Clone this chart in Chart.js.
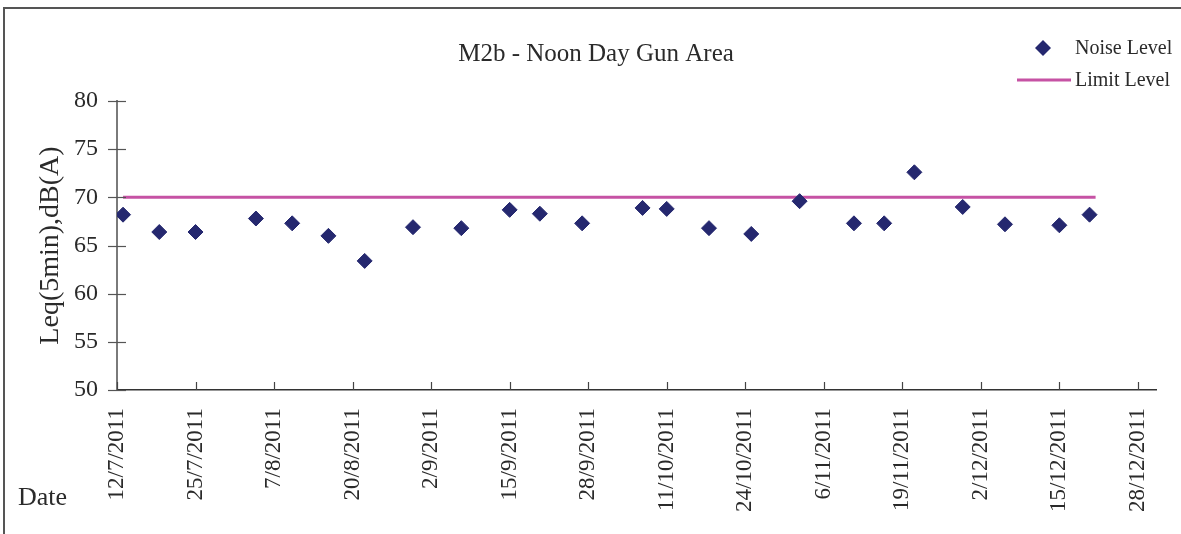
<!DOCTYPE html>
<html>
<head>
<meta charset="utf-8">
<script src="https://cdn.jsdelivr.net/npm/chart.js"></script>
<style>
  html, body { margin: 0; padding: 0; background: #ffffff; }
  #wrap { position: relative; width: 1181px; height: 534px; }
</style>
</head>
<body>
<div id="wrap"><canvas id="c" width="1181" height="534"></canvas></div>
<script>
// ---- data ----
const chartTitle = 'M2b - Noon Day Gun Area';
const yAxisTitle = 'Leq(5min),dB(A)';
const xAxisTitle = 'Date';
const noiseLabel = 'Noise Level';
const limitLabel = 'Limit Level';

const noiseDates = ['2011-07-13','2011-07-19','2011-07-25','2011-08-04','2011-08-10','2011-08-16',
  '2011-08-22','2011-08-30','2011-09-07','2011-09-15','2011-09-20','2011-09-27','2011-10-07',
  '2011-10-11','2011-10-18','2011-10-25','2011-11-02','2011-11-11','2011-11-16','2011-11-21',
  '2011-11-29','2011-12-06','2011-12-15','2011-12-20'];
const noiseValues = [68.2, 66.4, 66.4, 67.8, 67.3, 66.0, 63.4, 66.9, 66.8, 68.7, 68.3, 67.3, 68.9,
  68.8, 66.8, 66.2, 69.6, 67.3, 67.3, 72.6, 69.0, 67.2, 67.1, 68.2];

const limitDates = ['2011-07-13', '2011-12-21'];
const limitValues = [70, 70];

const xTickLabels = ['12/7/2011','25/7/2011','7/8/2011','20/8/2011','2/9/2011','15/9/2011',
  '28/9/2011','11/10/2011','24/10/2011','6/11/2011','19/11/2011','2/12/2011','15/12/2011','28/12/2011'];
const xMinLabel = '12/7/2011';
const xMaxLabel = '31/12/2011';
const yTickValues = [50, 55, 60, 65, 70, 75, 80];

// ---- helpers ----
const DAY = 86400000;
function isoToDay(s) { const [y, m, d] = s.split('-').map(Number); return Date.UTC(y, m - 1, d) / DAY; }
function dmyToDay(s) { const [d, m, y] = s.split('/').map(Number); return Date.UTC(y, m - 1, d) / DAY; }
function dayToDmy(v) { const dt = new Date(Math.round(v) * DAY); return dt.getUTCDate() + '/' + (dt.getUTCMonth() + 1) + '/' + dt.getUTCFullYear(); }

const xMin = dmyToDay(xMinLabel);
const xMax = dmyToDay(xMaxLabel);
const xTickPositions = xTickLabels.map(dmyToDay);

const noiseData = noiseDates.map((d, i) => ({ x: isoToDay(d), y: noiseValues[i] }));
const limitData = limitDates.map((d, i) => ({ x: isoToDay(d), y: limitValues[i] }));

const FONT = "'Liberation Serif', 'Times New Roman', serif";
const NAVY = '#25286F';
const PINK = '#C652A4';
const TEXT = '#2a2a2a';

const decorPlugin = {
  id: 'decor',
  afterDraw(chart) {
    const { ctx, chartArea: ca, scales } = chart;
    ctx.save();
    // outer frame (left & top visible)
    ctx.strokeStyle = '#555555';
    ctx.lineWidth = 2;
    ctx.beginPath();
    ctx.moveTo(4, 600); ctx.lineTo(4, 8); ctx.lineTo(1300, 8);
    ctx.stroke();

    // title
    ctx.fillStyle = TEXT;
    ctx.font = "25px " + FONT;
    ctx.textAlign = 'center';
    ctx.textBaseline = 'middle';
    ctx.fillText(chartTitle, 596, 54);

    // y tick marks (cross)
    ctx.strokeStyle = '#555555';
    ctx.lineWidth = 1.2;
    scales.y.ticks.forEach(t => {
      const py = Math.round(scales.y.getPixelForValue(t.value)) + 0.5;
      ctx.beginPath(); ctx.moveTo(ca.left - 9, py); ctx.lineTo(ca.left + 9, py); ctx.stroke();
    });
    // x tick marks (inside)
    ctx.strokeStyle = '#444444';
    scales.x.ticks.forEach(t => {
      const px = Math.round(scales.x.getPixelForValue(t.value)) + 0.5;
      ctx.beginPath(); ctx.moveTo(px, ca.bottom - 8); ctx.lineTo(px, ca.bottom); ctx.stroke();
    });

    // "Date" label
    ctx.fillStyle = TEXT;
    ctx.font = "26px " + FONT;
    ctx.textAlign = 'left';
    ctx.textBaseline = 'middle';
    ctx.fillText(xAxisTitle, 18, 498);

    // legend
    const ds0 = chart.data.datasets[0], ds1 = chart.data.datasets[1];
    ctx.font = "20px " + FONT;
    ctx.fillStyle = ds0.backgroundColor;
    const cx = 1043, cy = 48, r = 8;
    ctx.beginPath();
    ctx.moveTo(cx - r, cy); ctx.lineTo(cx, cy - r); ctx.lineTo(cx + r, cy); ctx.lineTo(cx, cy + r);
    ctx.closePath(); ctx.fill();
    ctx.fillStyle = TEXT;
    ctx.fillText(ds0.label, 1075, 49);
    ctx.strokeStyle = ds1.borderColor;
    ctx.lineWidth = ds1.borderWidth;
    ctx.beginPath(); ctx.moveTo(1017, 80); ctx.lineTo(1071, 80); ctx.stroke();
    ctx.fillStyle = TEXT;
    ctx.fillText(ds1.label, 1075, 81);
    ctx.restore();
  }
};

new Chart(document.getElementById('c'), {
  type: 'scatter',
  data: {
    datasets: [
      {
        label: noiseLabel,
        data: noiseData,
        showLine: false,
        pointStyle: 'rectRot',
        pointRadius: 7.5,
        pointBorderWidth: 1,
        backgroundColor: NAVY,
        borderColor: NAVY,
        pointHoverRadius: 7.5
      },
      {
        label: limitLabel,
        type: 'line',
        data: limitData,
        showLine: true,
        borderColor: PINK,
        backgroundColor: PINK,
        borderWidth: 3,
        pointRadius: 0,
        pointHoverRadius: 0,
        fill: false
      }
    ]
  },
  options: {
    responsive: false,
    devicePixelRatio: 1,
    animation: false,
    events: [],
    layout: { padding: { left: 0, right: 25, top: 101, bottom: 0 } },
    plugins: {
      legend: { display: false },
      tooltip: { enabled: false },
      title: { display: false }
    },
    scales: {
      x: {
        type: 'linear',
        min: xMin,
        max: xMax,
        afterBuildTicks(scale) { scale.ticks = xTickPositions.map(v => ({ value: v })); },
        afterFit(scale) { scale.height = 144; scale.paddingLeft = 0; scale.paddingRight = 0; },
        grid: { display: false, drawTicks: false, tickLength: 0 },
        border: { display: true, color: '#333333', width: 1.5 },
        ticks: {
          autoSkip: false,
          maxRotation: 90,
          minRotation: 90,
          padding: 18,
          color: TEXT,
          font: { family: FONT, size: 23 },
          callback: (v) => dayToDmy(v)
        }
      },
      y: {
        min: 50,
        max: 80,
        afterBuildTicks(scale) { scale.ticks = yTickValues.map(v => ({ value: v })); },
        afterFit(scale) { scale.width = 117; scale.paddingTop = 0; scale.paddingBottom = 0; },
        grid: { display: false, drawTicks: false, tickLength: 0 },
        border: { display: true, color: '#7a7a7a', width: 2 },
        title: {
          display: true,
          text: yAxisTitle,
          color: TEXT,
          font: { family: FONT, size: 28, weight: 'normal', lineHeight: 1.2 },
          padding: { top: 34, bottom: 0 }
        },
        ticks: {
          padding: 19,
          color: TEXT,
          font: { family: FONT, size: 24 }
        }
      }
    }
  },
  plugins: [decorPlugin]
});
</script>
</body>
</html>
